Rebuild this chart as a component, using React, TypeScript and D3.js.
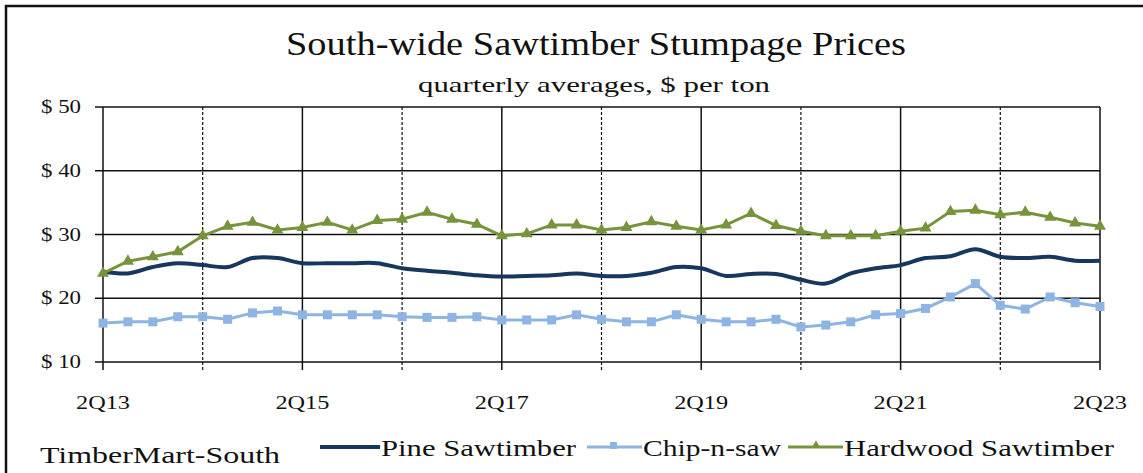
import React from "react";
import * as d3 from "d3";

const quarters = [
  "2Q13","3Q13","4Q13","1Q14","2Q14","3Q14","4Q14","1Q15","2Q15","3Q15","4Q15","1Q16","2Q16","3Q16","4Q16","1Q17",
  "2Q17","3Q17","4Q17","1Q18","2Q18","3Q18","4Q18","1Q19","2Q19","3Q19","4Q19","1Q20","2Q20","3Q20","4Q20","1Q21",
  "2Q21","3Q21","4Q21","1Q22","2Q22","3Q22","4Q22","1Q23","2Q23",
];
const pine = [24.2,23.9,24.9,25.5,25.2,24.9,26.3,26.3,25.5,25.5,25.5,25.5,24.7,24.3,24.0,23.6,23.4,23.5,23.6,23.9,23.5,23.5,24.0,24.9,24.7,23.5,23.8,23.8,22.9,22.3,23.9,24.7,25.2,26.3,26.6,27.7,26.5,26.3,26.5,25.9,25.9];
const chip = [16.1,16.3,16.3,17.1,17.1,16.7,17.7,18.0,17.4,17.4,17.4,17.4,17.1,17.0,17.0,17.1,16.6,16.6,16.6,17.4,16.7,16.3,16.3,17.4,16.7,16.3,16.3,16.7,15.5,15.8,16.3,17.4,17.6,18.4,20.2,22.3,18.9,18.3,20.2,19.3,18.7];
const hardwood = [23.9,25.8,26.5,27.3,29.8,31.3,31.9,30.7,31.1,31.9,30.7,32.2,32.4,33.5,32.4,31.6,29.8,30.1,31.5,31.5,30.7,31.1,32.0,31.3,30.7,31.5,33.3,31.4,30.5,29.8,29.8,29.8,30.5,31.0,33.6,33.8,33.1,33.5,32.7,31.8,31.3];
const yTicks = [10, 20, 30, 40, 50];
const xLabelQuarters = ["2Q13","2Q15","2Q17","2Q19","2Q21","2Q23"];
const xGridQuarters = ["2Q14","2Q15","2Q16","2Q17","2Q18","2Q19","2Q20","2Q21","2Q22","2Q23"];
const seriesNames = ["Pine Sawtimber", "Chip-n-saw", "Hardwood Sawtimber"];

const FONT = "'Liberation Serif', 'DejaVu Serif', serif";
const C_PINE = "#17375E";
const C_CHIP = "#8DB4E2";
const C_HARD = "#77933C";

export default function App() {
  const left = 103, right = 1100, top = 107, bottom = 362;
  const x = d3.scalePoint<string>().domain(quarters).range([left, right]);
  const y = d3.scaleLinear().domain([10, 50]).range([bottom, top]);

  const lineStraight = d3.line<number>().x((_, i) => x(quarters[i])!).y((d) => y(d));
  const lineSmooth = d3.line<number>().x((_, i) => x(quarters[i])!).y((d) => y(d)).curve(d3.curveCatmullRom.alpha(0.5));

  const tri = d3.symbol().type(d3.symbolTriangle).size(62)()!;
  const triSmall = d3.symbol().type(d3.symbolTriangle).size(30)()!;

  return (
    <svg width={1143} height={473} style={{ position: "absolute", left: 0, top: 0, background: "#fff" }} fontFamily={FONT}>
      <rect x={0} y={0} width={1143} height={473} fill="#fff" />
      <rect x={6} y={6} width={1160} height={500} fill="none" stroke="#111" strokeWidth={2.5} />

      <text x={596} y={55} textAnchor="middle" fontSize={34} fill="#111" textLength={620} lengthAdjust="spacingAndGlyphs">
        South-wide Sawtimber Stumpage Prices
      </text>
      <text x={594} y={92} textAnchor="middle" fontSize={21} fill="#111" textLength={352} lengthAdjust="spacingAndGlyphs">
        quarterly averages, $ per ton
      </text>

      {/* horizontal gridlines */}
      {yTicks.map((t) => (
        <line key={"h" + t} x1={95} x2={right} y1={y(t)} y2={y(t)} stroke="#111" strokeWidth={1.5} />
      ))}
      {yTicks.map((t) => (
        <text key={"yl" + t} x={81} y={y(t) + 6} textAnchor="end" fontSize={19} fill="#111" textLength={40} lengthAdjust="spacingAndGlyphs">
          {"$ " + t}
        </text>
      ))}

      {/* vertical gridlines */}
      <line x1={left} x2={left} y1={top} y2={370} stroke="#111" strokeWidth={1.5} />
      {xGridQuarters.map((q, i) => (
        <line key={"v" + q} x1={x(q)!} x2={x(q)!} y1={top} y2={370} stroke="#111" strokeWidth={i % 2 === 0 ? 1.2 : 1.5}
          strokeDasharray={i % 2 === 0 ? "3,2" : undefined} />
      ))}
      {xLabelQuarters.map((q) => (
        <text key={"xl" + q} x={x(q)!} y={409} textAnchor="middle" fontSize={19} fill="#111" textLength={54} lengthAdjust="spacingAndGlyphs">
          {q}
        </text>
      ))}

      {/* series */}
      <path d={lineSmooth(pine)!} fill="none" stroke={C_PINE} strokeWidth={4} />
      <path d={lineStraight(chip)!} fill="none" stroke={C_CHIP} strokeWidth={3} />
      {chip.map((v, i) => (
        <rect key={"c" + i} x={x(quarters[i])! - 4.5} y={y(v) - 4.5} width={9} height={9} fill={C_CHIP} />
      ))}
      <path d={lineStraight(hardwood)!} fill="none" stroke={C_HARD} strokeWidth={3} />
      {hardwood.map((v, i) => (
        <path key={"g" + i} d={tri} transform={`translate(${x(quarters[i])},${y(v)})`} fill={C_HARD} />
      ))}

      {/* legend */}
      <text x={40} y={463} fontSize={24} fill="#111" textLength={240} lengthAdjust="spacingAndGlyphs">TimberMart-South</text>

      <line x1={320} x2={380} y1={447} y2={447} stroke={C_PINE} strokeWidth={4} />
      <text x={381} y={456} fontSize={24} fill="#111" textLength={195} lengthAdjust="spacingAndGlyphs">{seriesNames[0]}</text>

      <line x1={587} x2={642} y1={447} y2={447} stroke={C_CHIP} strokeWidth={3} />
      <rect x={610} y={442} width={7} height={7} fill={C_CHIP} />
      <text x={643} y={456} fontSize={24} fill="#111" textLength={138} lengthAdjust="spacingAndGlyphs">{seriesNames[1]}</text>

      <line x1={788} x2={843} y1={447} y2={447} stroke={C_HARD} strokeWidth={3} />
      <path d={triSmall} transform="translate(816,445)" fill={C_HARD} />
      <text x={844} y={456} fontSize={24} fill="#111" textLength={270} lengthAdjust="spacingAndGlyphs">{seriesNames[2]}</text>
    </svg>
  );
}
